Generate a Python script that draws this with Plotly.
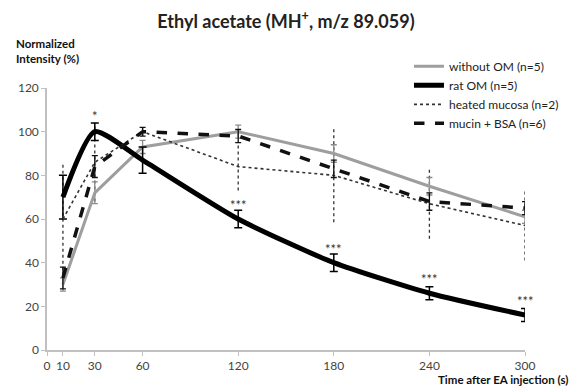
import plotly.graph_objects as go

time_s = [10, 30, 60, 120, 180, 240, 300]
tick_vals = [0, 10, 30, 60, 120, 180, 240, 300]
tick_text = ["0", "10", "30", "60", "120", "180", "240", "300"]
y_ticks = [0, 20, 40, 60, 80, 100, 120]

without_om = [30, 72, 93, 100, 90, 75, 61]
without_om_err = [3, 5, 3, 3, 4, 4, 3]
rat_om = [70, 100, 87, 60, 40, 26, 16]
rat_om_err = [10, 4, 6, 4, 4, 3, 3]
heated = [60, 86, 100, 84, 80, 67, 57]
heated_err = [26, 18, 2, 11, 21.5, 16, 16]
mucin_bsa = [33, 84, 100, 98, 83, 68, 65]
mucin_bsa_err = [5, 5, 2, 3, 4, 4, 3]

sig_x = [30, 120, 180, 240, 300]
sig_y = [100, 60, 40, 26, 16]
sig_text = ["*", "***", "***", "***", "***"]

FONT = "Lato"
fig = go.Figure()

def dotted_err(x, y, e):
    xs, ys = [], []
    for xi, yi, ei in zip(x, y, e):
        xs += [xi, xi, None]
        ys += [yi - ei, yi + ei, None]
    return xs, ys

# heated mucosa dotted error bars
ex, ey = dotted_err(time_s, heated, heated_err)
fig.add_trace(go.Scatter(x=ex, y=ey, mode="lines", showlegend=False, hoverinfo="skip",
                         line=dict(color="#333333", width=1.3, dash="dot")))

fig.add_trace(go.Scatter(
    x=time_s, y=without_om, name="without OM (n=5)", mode="lines",
    line=dict(color="#9e9e9e", width=3),
    error_y=dict(type="data", array=without_om_err, color="#8a8a8a", thickness=1.3, width=3)))
fig.add_trace(go.Scatter(
    x=time_s, y=rat_om, name="rat OM (n=5)", mode="lines",
    line=dict(color="#000000", width=5, shape="spline", smoothing=0.6),
    error_y=dict(type="data", array=rat_om_err, color="#000000", thickness=1.5, width=4)))
fig.add_trace(go.Scatter(
    x=time_s, y=heated, name="heated mucosa (n=2)", mode="lines",
    line=dict(color="#333333", width=1.6, dash="dot"),
    error_y=dict(type="data", array=heated_err, color="rgba(0,0,0,0)", thickness=0.1, width=3)))
fig.add_trace(go.Scatter(
    x=time_s, y=mucin_bsa, name="mucin + BSA (n=6)", mode="lines",
    line=dict(color="#111111", width=3.5, dash="dash"),
    error_y=dict(type="data", array=mucin_bsa_err, color="#111111", thickness=1.3, width=3)))

for sx, sy, st in zip(sig_x, sig_y, sig_text):
    fig.add_annotation(x=sx, y=sy, text=st, showarrow=False, yshift=16 if st == "*" else 14,
                       font=dict(family=FONT, size=13, color="#333333"))

fig.add_annotation(xref="paper", yref="paper", x=0.0, y=1.08, xanchor="center", yanchor="bottom",
                   text="<b>Normalized<br>Intensity (%)</b>", showarrow=False, align="left",
                   font=dict(family=FONT, size=11.5, color="#111111"))
fig.add_annotation(xref="paper", yref="paper", x=1.094, y=-0.113, xanchor="right", yanchor="middle",
                   text="<b>Time after EA injection (s)</b>", showarrow=False,
                   font=dict(family=FONT, size=11.5, color="#111111"))

fig.update_layout(
    width=572, height=387,
    margin=dict(l=47, r=47, t=88, b=37, autoexpand=False),
    paper_bgcolor="white", plot_bgcolor="white",
    title=dict(text="<b>Ethyl acetate (MH<sup>+</sup>, m/z 89.059)</b>", x=0.5, xanchor="center",
               xref="container", yref="container",
               y=0.945, yanchor="middle", font=dict(family=FONT, size=18, color="#222222")),
    font=dict(family=FONT, size=12, color="#444444"),
    xaxis=dict(range=[0, 300], tickmode="array", tickvals=tick_vals, ticktext=tick_text,
               showgrid=False, zeroline=False, showline=True, linecolor="#c0c0c0", linewidth=1.5,
               ticks="outside", ticklen=4, tickcolor="#c0c0c0", tickfont=dict(size=12, color="#444444")),
    yaxis=dict(range=[0, 120], tickmode="array", tickvals=y_ticks,
               showgrid=False, zeroline=False, showline=True, linecolor="#c0c0c0", linewidth=1.5,
               ticks="outside", ticklen=4, tickcolor="#c0c0c0", tickfont=dict(size=12, color="#444444")),
    legend=dict(xref="container", yref="container", x=0.715, y=0.866, xanchor="left", yanchor="top",
                bgcolor="rgba(0,0,0,0)",
                font=dict(family=FONT, size=12, color="#222222"), tracegroupgap=0, itemwidth=30),
    showlegend=True,
)

fig.write_html("out.html", config={"displayModeBar": False},
               post_script="document.body.style.margin='0';")
